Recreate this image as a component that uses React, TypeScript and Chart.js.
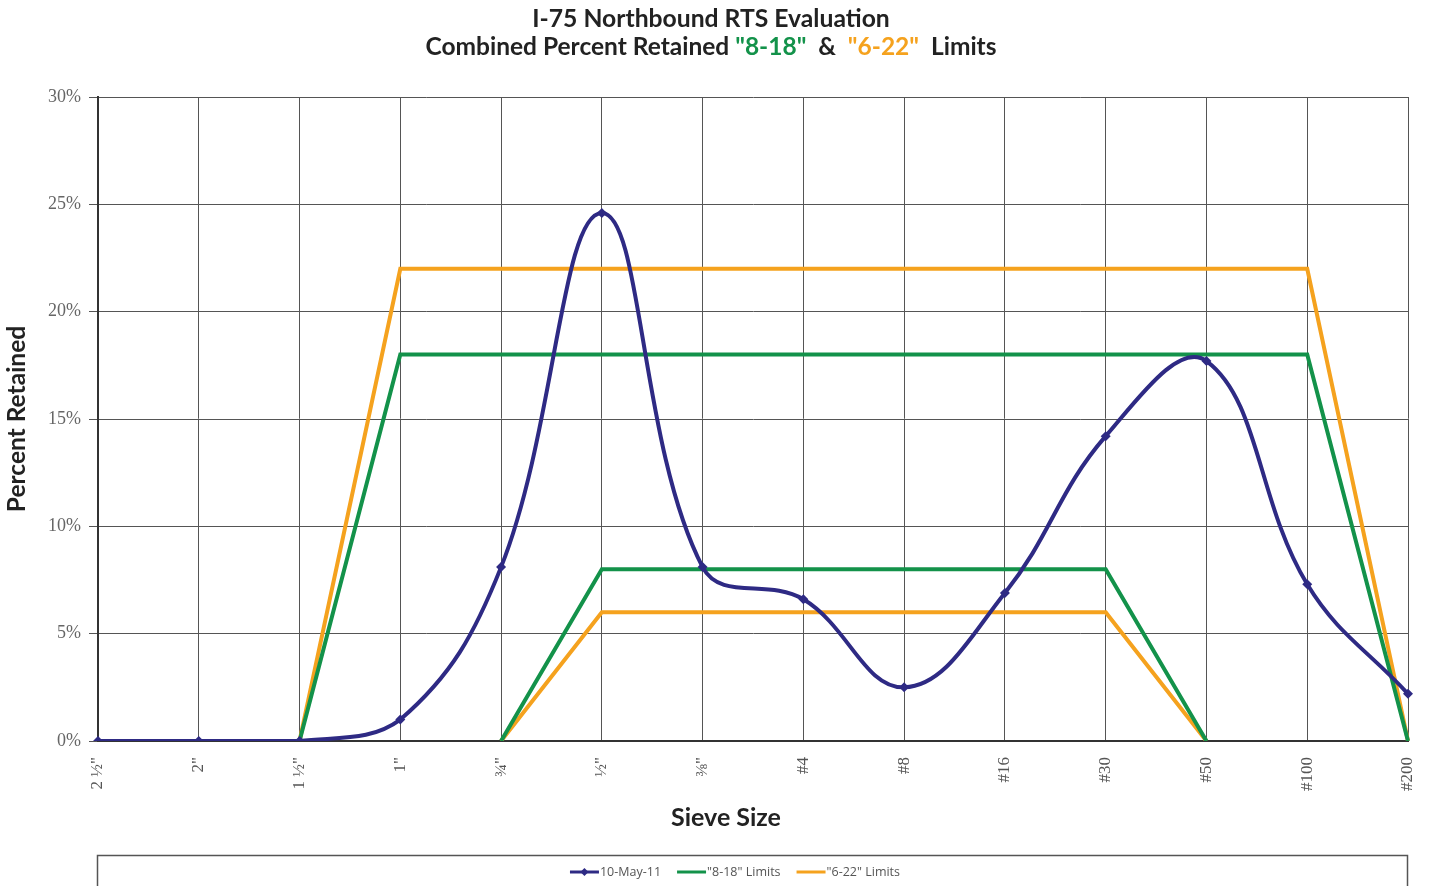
import React, { useEffect, useRef } from "react";
import { Chart, registerables } from "chart.js";

Chart.register(...registerables);

const categories = ['2 ½"', '2"', '1 ½"', '1"', '¾"', '½"', '⅜"', '#4', '#8', '#16', '#30', '#50', '#100', '#200'];
const retained = [0, 0, 0, 1.0, 8.1, 24.6, 8.1, 6.6, 2.5, 6.9, 14.2, 17.7, 7.3, 2.2];
const limit818Upper = [null, null, 0, 18, 18, 18, 18, 18, 18, 18, 18, 18, 18, 0];
const limit818Lower = [null, null, null, null, 0, 8, 8, 8, 8, 8, 8, 0, null, null];
const limit622Upper = [null, null, 0, 22, 22, 22, 22, 22, 22, 22, 22, 22, 22, 0];
const limit622Lower = [null, null, null, null, 0, 6, 6, 6, 6, 6, 6, 0, null, null];
const yTicks = [0, 5, 10, 15, 20, 25, 30];

const PURPLE = "#2e2a84";
const GREEN = "#13924a";
const ORANGE = "#f5a21e";
const TITLE_FONT = "Lato";
const X_TITLE = "Sieve Size";

const titleLine1 = [{ text: "I-75 Northbound RTS Evaluation", color: "#222" }];
const titleLine2 = [
  { text: "Combined Percent Retained ", color: "#222" },
  { text: '"8-18"', color: GREEN },
  { text: "  &  ", color: "#222" },
  { text: '"6-22"', color: ORANGE },
  { text: "  Limits", color: "#222" },
];

function drawSegments(ctx: CanvasRenderingContext2D, segs: { text: string; color: string }[], cx: number, y: number) {
  const total = segs.reduce((s, g) => s + ctx.measureText(g.text).width, 0);
  let x = cx - total / 2;
  ctx.textAlign = "left";
  for (const g of segs) {
    ctx.fillStyle = g.color;
    ctx.fillText(g.text, x, y);
    x += ctx.measureText(g.text).width;
  }
}

const decorPlugin = {
  id: "decor",
  afterDraw(chart: any) {
    const ctx: CanvasRenderingContext2D = chart.ctx;
    ctx.save();
    ctx.textBaseline = "middle";
    ctx.font = `bold 24.7px ${TITLE_FONT}`;
    drawSegments(ctx, titleLine1, 711, 19);
    ctx.font = `bold 24.5px ${TITLE_FONT}`;
    drawSegments(ctx, titleLine2, 711, 47);

    // x axis title
    ctx.font = `bold 25px ${TITLE_FONT}`;
    ctx.fillStyle = "#222";
    ctx.textAlign = "center";
    ctx.fillText(X_TITLE, 726, 818);

    // legend box
    ctx.strokeStyle = "#555";
    ctx.lineWidth = 1.5;
    ctx.strokeRect(97.5, 855.5, 1310, 40);

    // legend items
    const items = chart.data.datasets
      .filter((d: any) => d.label)
      .map((d: any) => ({ label: d.label, color: d.borderColor, marker: d.pointRadius > 0 }));
    ctx.font = "12.5px 'Open Sans'";
    const lineW = 29;
    const gap = 1;
    const sep = 16;
    const widths = items.map((it: any) => lineW + gap + ctx.measureText(it.label).width);
    const total = widths.reduce((a: number, b: number) => a + b, 0) + sep * (items.length - 1);
    let x = 735 - total / 2;
    const y = 872;
    items.forEach((it: any, i: number) => {
      ctx.strokeStyle = it.color;
      ctx.lineWidth = 3;
      ctx.beginPath();
      ctx.moveTo(x, y);
      ctx.lineTo(x + lineW, y);
      ctx.stroke();
      if (it.marker) {
        ctx.fillStyle = it.color;
        ctx.beginPath();
        ctx.moveTo(x + lineW / 2, y - 4);
        ctx.lineTo(x + lineW / 2 + 4, y);
        ctx.lineTo(x + lineW / 2, y + 4);
        ctx.lineTo(x + lineW / 2 - 4, y);
        ctx.closePath();
        ctx.fill();
      }
      ctx.fillStyle = "#555";
      ctx.textAlign = "left";
      ctx.fillText(it.label, x + lineW + gap, y);
      x += widths[i] + sep;
    });
    ctx.restore();
  },
};

export default function App() {
  const ref = useRef<HTMLCanvasElement>(null);
  useEffect(() => {
    document.body.style.margin = "0";
    const limitStyle = (color: string) => ({
      borderColor: color,
      backgroundColor: color,
      borderWidth: 4,
      pointRadius: 0,
      tension: 0,
      fill: false,
    });
    const chart = new Chart(ref.current!, {
      type: "line",
      data: {
        labels: categories,
        datasets: [
          {
            label: "10-May-11",
            data: retained,
            borderColor: PURPLE,
            backgroundColor: PURPLE,
            borderWidth: 4,
            pointStyle: "rectRot",
            pointRadius: 5,
            pointBorderWidth: 0,
            tension: 0.4,
            fill: false,
          },
          { label: '"8-18" Limits', data: limit818Upper, ...limitStyle(GREEN) },
          { label: "", data: limit818Lower, ...limitStyle(GREEN) },
          { label: '"6-22" Limits', data: limit622Upper, ...limitStyle(ORANGE) },
          { label: "", data: limit622Lower, ...limitStyle(ORANGE) },
        ] as any,
      },
      options: {
        animation: false,
        responsive: false,
        layout: { padding: { top: 97, right: 22, left: 0, bottom: 54 } },
        plugins: {
          legend: { display: false },
          title: { display: false },
          tooltip: { enabled: false },
        },
        scales: {
          x: {
            type: "category",
            offset: false,
            grid: { color: "#555", lineWidth: 1, drawTicks: false },
            border: { color: "#333", width: 2 },
            ticks: {
              maxRotation: 90,
              minRotation: 90,
              padding: 16,
              autoSkip: false,
              color: "#555",
              font: { family: "'Liberation Serif'", size: 17 },
            },
            title: { display: false },
            afterFit: (s: any) => {
              s.height = 91;
              s.paddingLeft = 0;
              s.paddingRight = 0;
            },
          },
          y: {
            min: 0,
            max: 30,
            afterBuildTicks: (s: any) => {
              s.ticks = yTicks.map((v) => ({ value: v }));
            },
            grid: { color: "#555", lineWidth: 1, tickLength: 9 },
            border: { color: "#333", width: 2 },
            ticks: {
              padding: 8,
              color: "#666",
              font: { family: "'Liberation Serif'", size: 18 },
              callback: (v: any) => v + "%",
            },
            title: {
              display: true,
              text: "Percent Retained",
              color: "#222",
              font: { family: TITLE_FONT, size: 24.5, weight: "bold" },
              padding: { top: 2, bottom: 4 },
            },
            afterFit: (s: any) => {
              s.width = 98;
            },
          },
        },
      },
      plugins: [decorPlugin],
    });
    return () => chart.destroy();
  }, []);
  return (
    <div style={{ width: 1430, height: 886, background: "#fff" }}>
      <canvas ref={ref} width={1430} height={886} style={{ display: "block" }} />
    </div>
  );
}
